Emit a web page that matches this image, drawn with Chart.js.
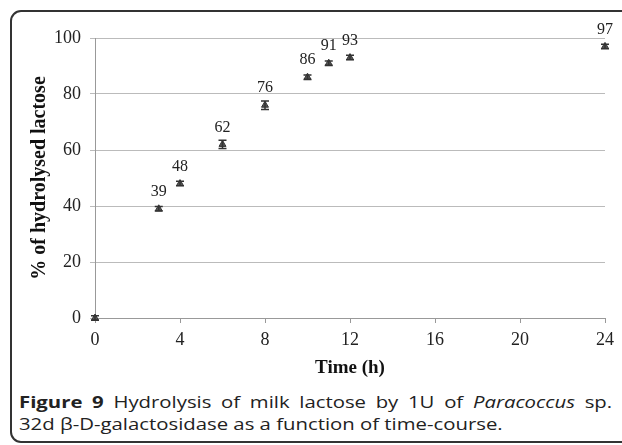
<!DOCTYPE html>
<html>
<head>
<meta charset="utf-8">
<script src="https://cdn.jsdelivr.net/npm/chart.js@4.4.0/dist/chart.umd.min.js"></script>
<style>
  html, body { margin: 0; padding: 0; background: #fff; overflow: hidden; }
  body { width: 622px; height: 445px; position: relative; }
  #frame {
    position: absolute; left: 10px; top: 10px; width: 700px; height: 433px;
    border: 2px solid #333; border-radius: 11px; box-sizing: border-box;
  }
  #wrap { position: absolute; left: 0; top: 0; width: 622px; height: 380px; }
  #caption {
    position: absolute; left: 19px; top: 391px; width: 467px;
    font-family: "Open Sans", sans-serif; font-size: 16px; line-height: 22px;
    color: #222; transform: scaleX(1.27); transform-origin: 0 0;
  }
  #caption .l1 { text-align: justify; text-align-last: justify; }
  #caption b { font-weight: 700; }
</style>
</head>
<body>
<div id="frame"></div>
<div id="wrap"><canvas id="myChart" width="622" height="380"></canvas></div>
<div id="caption">
  <div class="l1"><b>Figure 9</b> Hydrolysis of milk lactose by 1U of <i>Paracoccus</i> sp.</div>
  <div>32d β-D-galactosidase as a function of time-course.</div>
</div>
<script>
// time course (h) and % hydrolysed lactose
const hours = [0, 3, 4, 6, 8, 10, 11, 12, 24];
const hydrolysed = [0, 39, 48, 62, 76, 86, 91, 93, 97];
const errors = [0.8, 0.8, 0.8, 1.5, 1.5, 0.8, 0.8, 0.8, 0.8];
const pointLabels = ['', '39', '48', '62', '76', '86', '91', '93', '97'];
const xTicks = [0, 4, 8, 12, 16, 20, 24];
const yTicks = [0, 20, 40, 60, 80, 100];

const errorBars = {
  id: 'errorBars',
  afterDatasetsDraw(chart) {
    const ctx = chart.ctx;
    const x = chart.scales.x, y = chart.scales.y;
    ctx.save();
    ctx.strokeStyle = '#333';
    ctx.lineWidth = 1.5;
    hours.forEach((h, i) => {
      const px = x.getPixelForValue(h);
      const top = y.getPixelForValue(hydrolysed[i] + errors[i]);
      const bot = y.getPixelForValue(hydrolysed[i] - errors[i]);
      ctx.beginPath();
      ctx.moveTo(px, top); ctx.lineTo(px, bot);
      ctx.moveTo(px - 4, top); ctx.lineTo(px + 4, top);
      ctx.moveTo(px - 4, bot); ctx.lineTo(px + 4, bot);
      ctx.stroke();
    });
    // value labels above the points
    ctx.fillStyle = '#222';
    ctx.font = '16px "Liberation Serif"';
    ctx.textAlign = 'center';
    ctx.textBaseline = 'middle';
    hours.forEach((h, i) => {
      if (!pointLabels[i]) return;
      const px = x.getPixelForValue(h);
      const py = y.getPixelForValue(hydrolysed[i]);
      ctx.fillText(pointLabels[i], px, py - 17);
    });
    ctx.restore();
  }
};

document.addEventListener('DOMContentLoaded', function () {
  const ctx = document.getElementById('myChart');
  Chart.defaults.font.family = '"Liberation Serif", serif';
  Chart.defaults.color = '#222';

  new Chart(ctx, {
    type: 'scatter',
    data: {
      datasets: [{
        data: hours.map((h, i) => ({ x: h, y: hydrolysed[i] })),
        pointStyle: 'triangle',
        radius: 4,
        backgroundColor: '#555',
        borderColor: '#333',
        borderWidth: 1,
        clip: false
      }]
    },
    options: {
      responsive: false,
      animation: false,
      layout: { padding: { top: 38, right: 17, left: 0, bottom: 0 } },
      plugins: {
        legend: { display: false },
        tooltip: { enabled: false }
      },
      scales: {
        x: {
          type: 'linear',
          min: 0, max: 24,
          afterFit: s => { s.height = 62; },
          afterBuildTicks: s => { s.ticks = xTicks.map(v => ({ value: v })); },
          grid: { drawOnChartArea: false, drawTicks: true, tickLength: 5, color: '#999' },
          border: { color: '#999' },
          ticks: { font: { size: 18 }, padding: 6, color: '#222' },
          title: {
            display: true, text: 'Time (h)',
            font: { size: 19, weight: 'bold' }, color: '#111',
            padding: { top: 0, bottom: 1 }
          }
        },
        y: {
          min: 0, max: 100,
          afterFit: s => { s.width = 95; },
          afterBuildTicks: s => { s.ticks = yTicks.map(v => ({ value: v })); },
          grid: { color: '#bbb', drawTicks: true, tickLength: 5 },
          border: { color: '#999' },
          ticks: { font: { size: 18 }, padding: 9, color: '#222' },
          title: {
            display: true, text: '% of hydrolysed lactose',
            font: { size: 20, weight: 'bold' }, color: '#111',
            padding: { top: 28, bottom: 0 }
          }
        }
      }
    },
    plugins: [errorBars]
  });
});
</script>
</body>
</html>
